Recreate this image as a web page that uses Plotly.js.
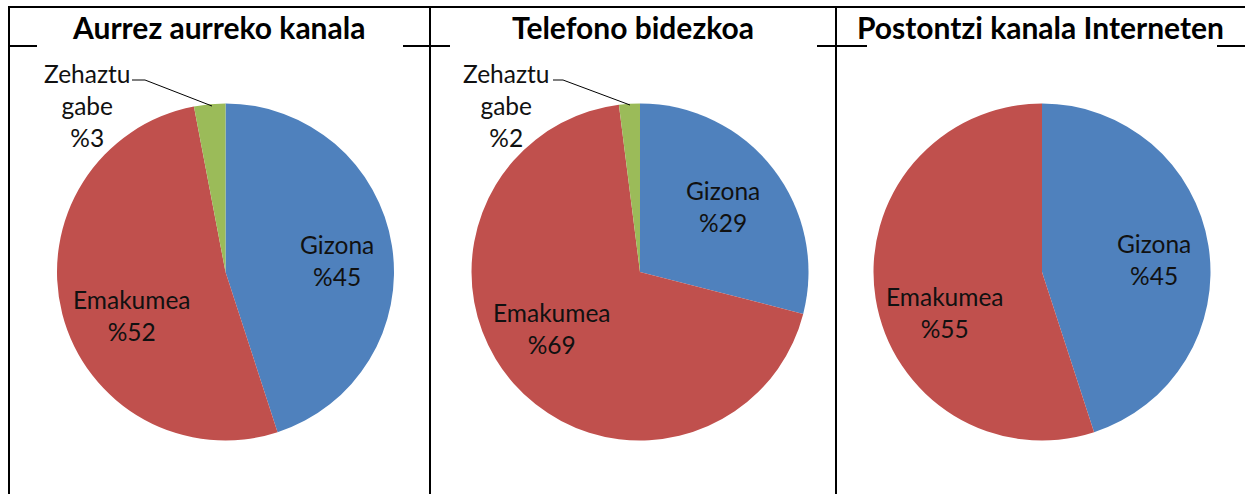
<!DOCTYPE html>
<html>
<head>
<meta charset="utf-8">
<script src="https://cdn.plot.ly/plotly-3.0.1.min.js"></script>
<style>html,body{margin:0;padding:0;background:#fff;}#chart{width:1245px;height:494px;}</style>
</head>
<body>
<div id="chart"></div>
<script>
// ---- data ----
const panelTitles = ["Aurrez aurreko kanala", "Telefono bidezkoa", "Postontzi kanala Interneten"];
const categories = ["Gizona", "Emakumea", "Zehaztu gabe"];
const aurrezValues = [45, 52, 3];
const telefonoValues = [29, 69, 2];
const postontziValues = [45, 55, 0];
const seriesValues = [aurrezValues, telefonoValues, postontziValues];

// ---- layout / style ----
const W = 1245, H = 494;
const colors = ["#4F81BD", "#C0504D", "#9BBB59"];
const px = x => x / W;
const py = y => 1 - y / H;
const pieBoxes = [ // [left, right, top, bottom] in pixels
  [57, 394, 103.5, 440.5],
  [471.5, 808.5, 103.5, 440.5],
  [873.5, 1210.5, 103.5, 440.5]
];
const titleCenters = [218, 633, 1040];
const labelPos = [
  [[337, 260], [132, 315], [87, 105]],
  [[723, 206], [552, 328], [506, 105]],
  [[1154, 259], [945, 312], null]
];
const leaders = [
  [[132, 80], [145, 80], [212, 106]],
  [[553, 80], [563, 80], [630, 105]],
  null
];
const labelFont = {family: "Lato, 'Open Sans', sans-serif", size: 24.5, color: "#111"};
const titleFont = {family: "Lato, 'Open Sans', sans-serif", size: 30, color: "#000"};

const traces = seriesValues.map((vals, i) => ({
  type: "pie",
  labels: categories,
  values: vals,
  sort: false,
  direction: "clockwise",
  rotation: 0,
  textinfo: "none",
  hoverinfo: "label+value",
  showlegend: false,
  marker: {colors: colors, line: {width: 0}},
  domain: {
    x: [px(pieBoxes[i][0]), px(pieBoxes[i][1])],
    y: [py(pieBoxes[i][3]), py(pieBoxes[i][2])]
  }
}));

const annotations = [];
panelTitles.forEach((t, i) => {
  annotations.push({
    text: "<b>" + t + "</b>", xref: "paper", yref: "paper",
    x: px(titleCenters[i]), y: py(27), xanchor: "center", yanchor: "middle",
    showarrow: false, font: titleFont
  });
});
seriesValues.forEach((vals, i) => {
  vals.forEach((v, j) => {
    if (!v || !labelPos[i][j]) return;
    const p = labelPos[i][j];
    annotations.push({
      text: categories[j].split(" ").join("<br>") + "<br>%" + v,
      xref: "paper", yref: "paper", x: px(p[0]), y: py(p[1]),
      xanchor: "center", yanchor: "middle", align: "center",
      showarrow: false, font: labelFont
    });
  });
});

const lineStyle = {color: "#000", width: 2};
const shapes = [];
function seg(x0, y0, x1, y1, line) {
  shapes.push({type: "line", xref: "paper", yref: "paper",
    x0: px(x0), y0: py(y0), x1: px(x1), y1: py(y1), line: line || lineStyle, layer: "above"});
}
// table frame
seg(9, 7, W, 7);
[9, 430, 836].forEach(x => seg(x, 6, x, H + 2));
// header separator (partly hidden behind the chart boxes)
seg(9, 46, 37, 46);
seg(403, 46, 450, 46);
seg(817, 46, 867, 46);
seg(1217, 46, W, 46);
// leader lines
leaders.forEach(L => {
  if (!L) return;
  for (let k = 0; k < L.length - 1; k++) {
    seg(L[k][0], L[k][1], L[k + 1][0], L[k + 1][1], {color: "#000", width: 1});
  }
});

const layout = {
  width: W, height: H,
  margin: {l: 0, r: 0, t: 0, b: 0},
  paper_bgcolor: "#fff", plot_bgcolor: "#fff",
  showlegend: false,
  annotations: annotations,
  shapes: shapes
};
Plotly.newPlot("chart", traces, layout, {displayModeBar: false, staticPlot: true});
</script>
</body>
</html>
